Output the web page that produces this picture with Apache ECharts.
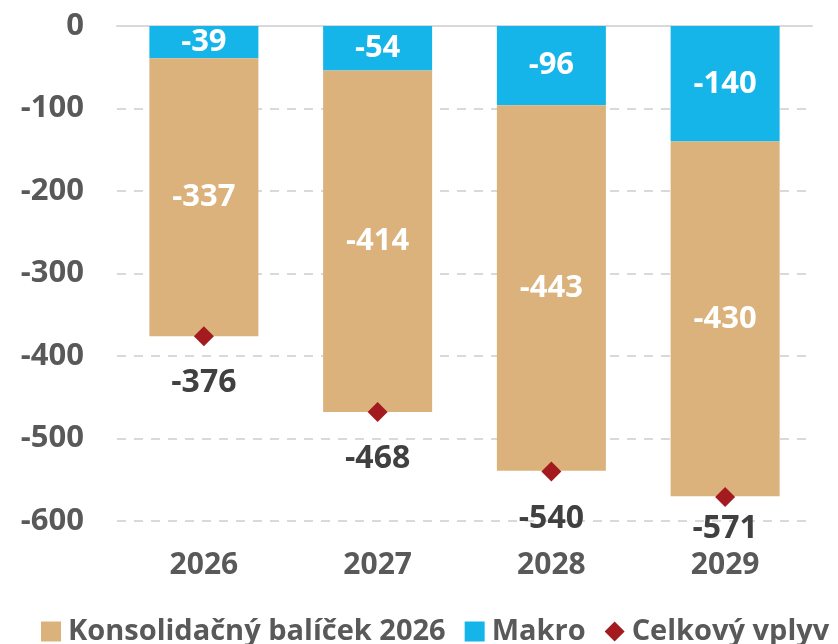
<!DOCTYPE html>
<html>
<head>
<meta charset="utf-8">
<script src="https://cdn.jsdelivr.net/npm/echarts@6/dist/echarts.min.js"></script>
<style>
  html, body { margin: 0; padding: 0; background: #fff; }
  #chart { width: 838px; height: 644px; }
</style>
</head>
<body>
<div id="chart"></div>
<script>
    // data
    var years = ["2026", "2027", "2028", "2029"];
    var konsolidacny = [-337, -414, -443, -430];
    var makro = [-39, -54, -96, -140];
    var celkovy = [-376, -468, -540, -571];
    var yTicks = [0, -100, -200, -300, -400, -500, -600];

    var FONT = "Open Sans";
    var GREY = "#595959";

    var chart = echarts.init(document.getElementById("chart"));

    // last total label sits a bit closer to its marker
    var totalData = celkovy.map(function (v, i) {
        if (i === celkovy.length - 1) return { value: v, label: { distance: 6 } };
        return v;
    });

    var option = {
        animation: false,
        textStyle: { fontFamily: FONT },
        grid: { left: 117, right: 26, top: 26, bottom: 123 },
        legend: {
            left: 36,
            top: 612,
            width: 1200,   // keep it on one line, it runs off the right edge
            itemWidth: 20,
            itemHeight: 20,
            itemGap: 19,
            textStyle: { fontFamily: FONT, fontSize: 29, fontWeight: "bold", color: GREY, padding: [0, 0, 0, 2] },
            data: [
                { name: "Konsolidačný balíček 2026", icon: "rect" },
                { name: "Makro", icon: "rect" },
                { name: "Celkový vplyv", icon: "diamond" }
            ]
        },
        xAxis: [{
            type: "category",
            data: years,
            axisLine: { show: false },
            axisTick: { show: false },
            axisLabel: { margin: 29, fontFamily: FONT, fontSize: 30, fontWeight: "bold", color: GREY }
        }, {
            type: "category",
            data: years,
            position: "top",
            axisLine: { show: true, onZero: false, lineStyle: { color: "#d9d9d9", width: 2 } },
            axisTick: { show: false },
            axisLabel: { show: false }
        }],
        yAxis: {
            type: "value",
            min: yTicks[yTicks.length - 1],
            max: yTicks[0],
            interval: 100,
            axisLine: { show: false },
            axisTick: { show: false },
            axisLabel: { margin: 33, fontFamily: FONT, fontSize: 31, fontWeight: "bold", color: GREY },
            splitLine: { lineStyle: { color: "#d9d9d9", width: 2, type: [9, 8] } }
        },
        series: [
            {
                name: "Makro",
                type: "bar",
                stack: "total",
                barWidth: 109,
                data: makro,
                itemStyle: { color: "#15b5ea" },
                label: { show: true, position: "inside", color: "#fff", fontFamily: FONT, fontSize: 31, fontWeight: "bold" }
            },
            {
                name: "Konsolidačný balíček 2026",
                type: "bar",
                stack: "total",
                barWidth: 109,
                data: konsolidacny,
                itemStyle: { color: "#dbb27b" },
                label: { show: true, position: "inside", color: "#fff", fontFamily: FONT, fontSize: 31, fontWeight: "bold" }
            },
            {
                name: "Celkový vplyv",
                type: "scatter",
                symbol: "diamond",
                symbolSize: [20, 20],
                data: totalData,
                itemStyle: { color: "#a31b1f", opacity: 1 },
                label: { show: true, position: "bottom", distance: 21, color: "#404040", fontFamily: FONT, fontSize: 32, fontWeight: "bold" },
                z: 5
            }
        ]
    };

    chart.setOption(option);
</script>
</body>
</html>
